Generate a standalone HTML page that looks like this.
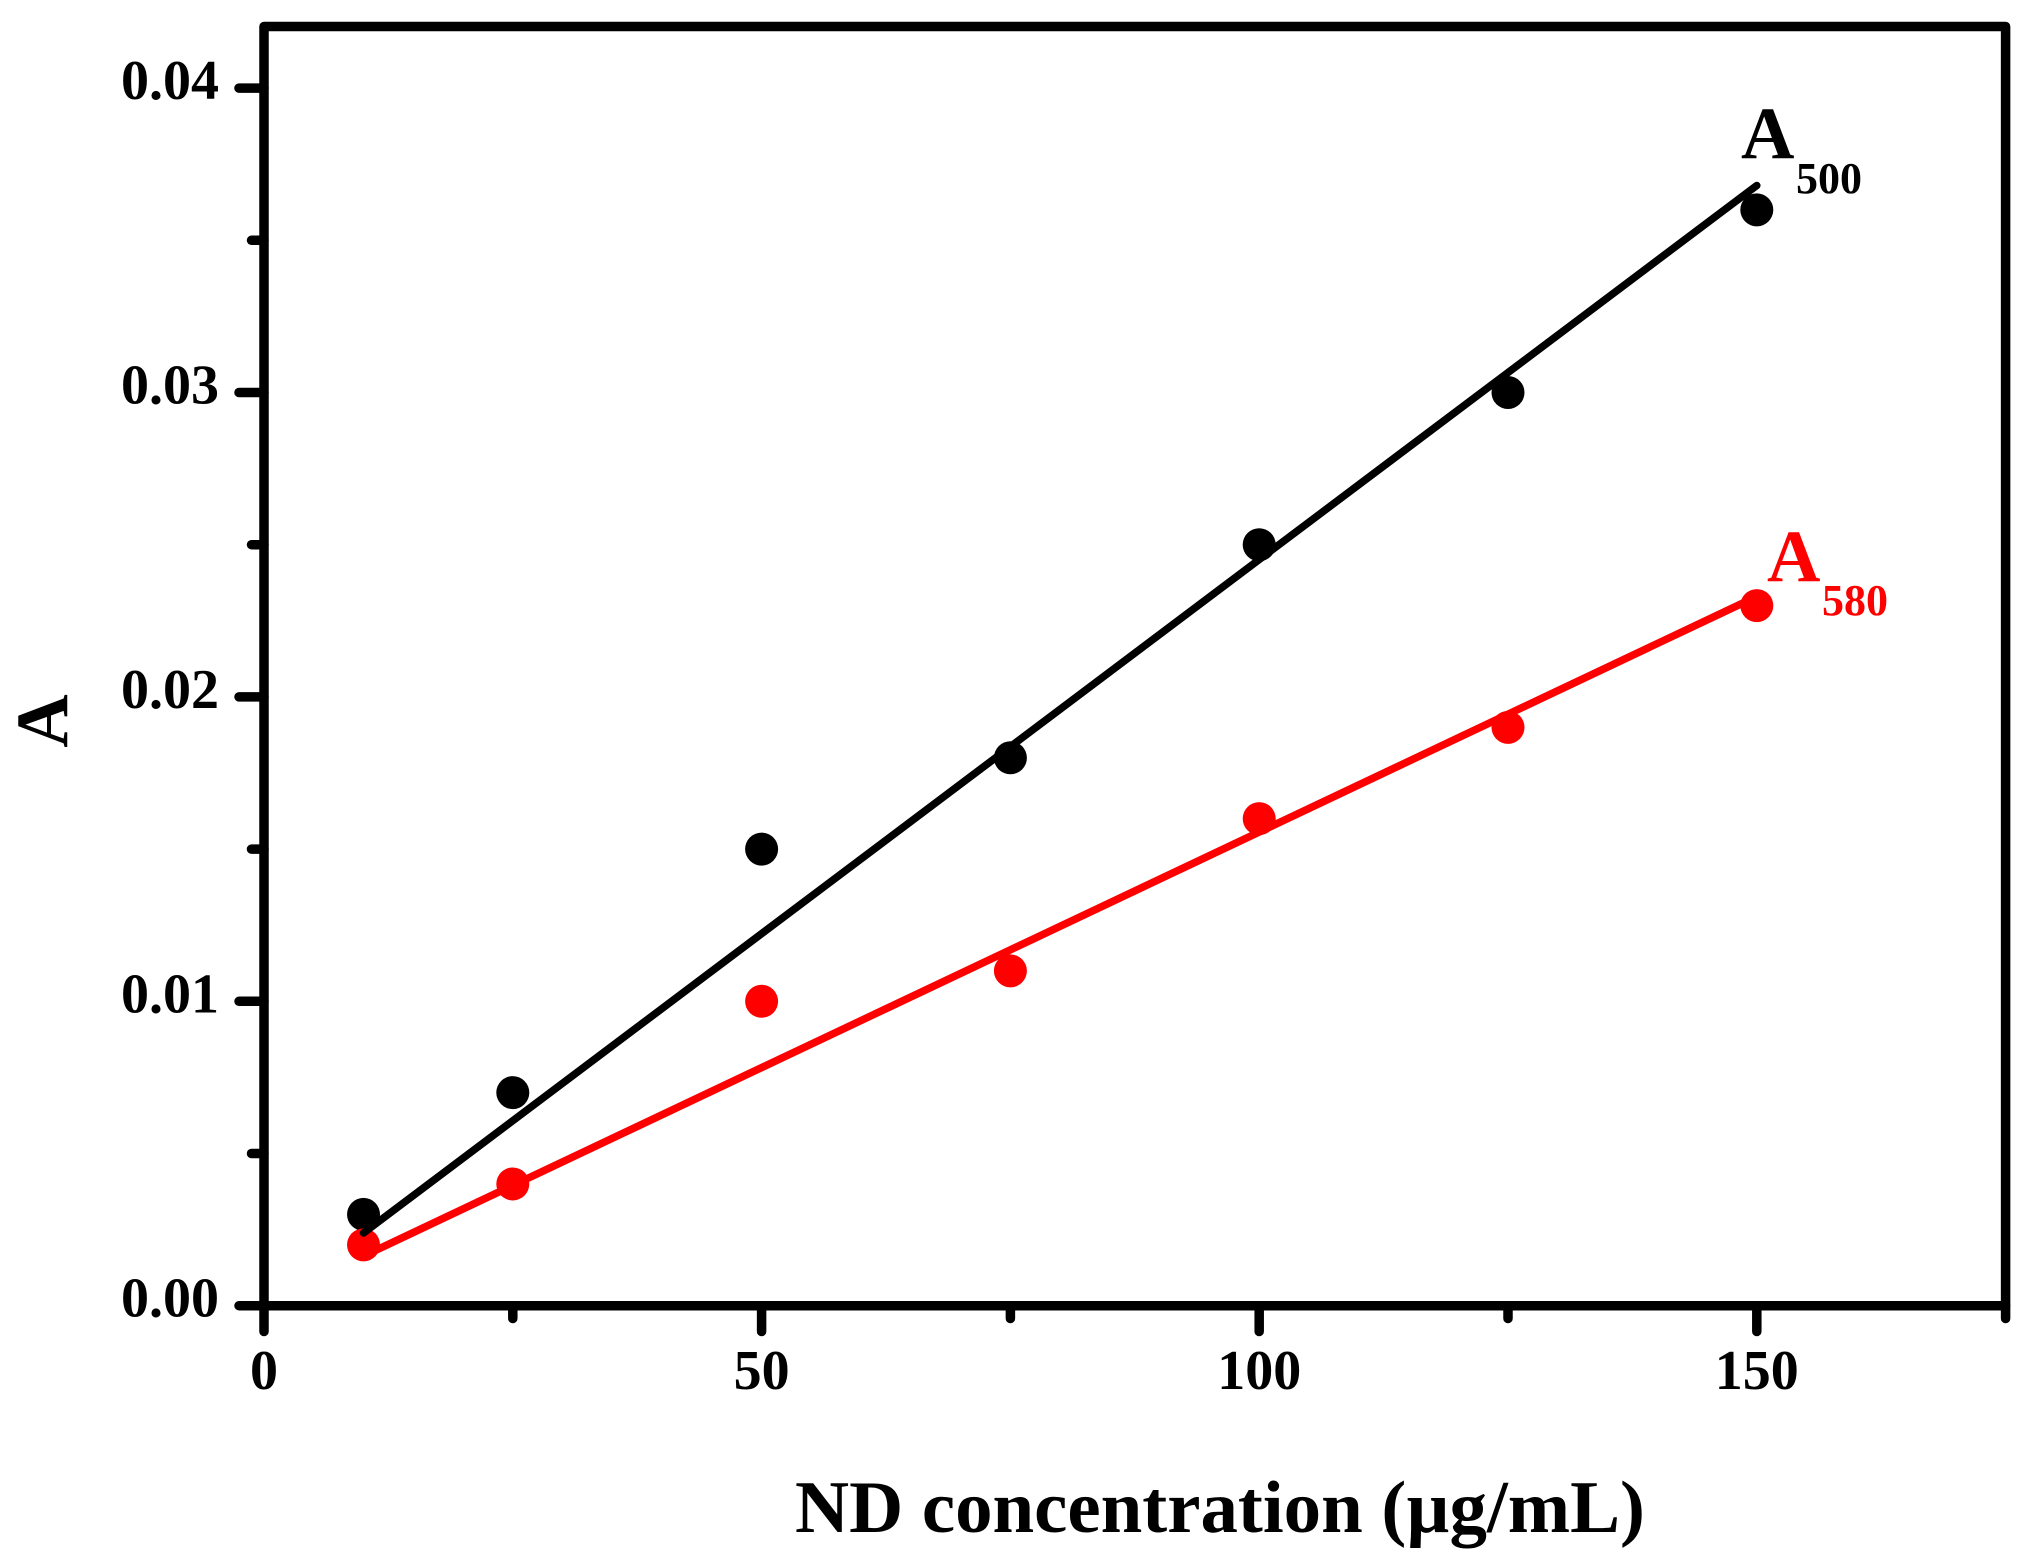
<!DOCTYPE html>
<html lang="en">
<head>
<meta charset="utf-8">
<title>Absorbance vs ND concentration</title>
<style>
html,body{margin:0;padding:0;background:#fff;}
svg{display:block;}
text{font-family:"Liberation Serif",serif;font-weight:bold;}
</style>
</head>
<body>
<svg id="chart" xmlns="http://www.w3.org/2000/svg" width="2033" height="1559" viewBox="0 0 2033 1559">
  <rect x="0" y="0" width="2033" height="1559" fill="#ffffff"/>
  <g id="ticks"></g>
  <g id="tick-labels"></g>
  <g id="marks"></g>
  <rect x="264" y="26.5" width="1741.6" height="1279.2" fill="none" stroke="#000" stroke-width="9.5" stroke-linejoin="round"/>
  <text x="795" y="1532" font-size="74" textLength="850" lengthAdjust="spacingAndGlyphs" fill="#000">ND concentration (µg/mL)</text>
  <text transform="translate(67,721) rotate(-90)" text-anchor="middle" font-size="74" fill="#000">A</text>
  <text x="1741" y="158" font-size="74" fill="#000">A</text>
  <text x="1796" y="193" font-size="44" fill="#000">500</text>
  <text x="1767" y="581" font-size="74" fill="#ff0000">A</text>
  <text x="1822" y="615" font-size="44" fill="#ff0000">580</text>
</svg>
<script>
const concentrations = [10, 25, 50, 75, 100, 125, 150];
const a500Values = [0.003, 0.007, 0.015, 0.018, 0.025, 0.030, 0.036];
const a580Values = [0.002, 0.004, 0.010, 0.011, 0.016, 0.019, 0.023];
const fitX = [10, 150];
const a500Fit = [0.00239, 0.0368];
const a580Fit = [0.00163, 0.0233];
const xMajorTicks = [0, 50, 100, 150];
const xMinorTicks = [25, 75, 125, 175];
const yMajorTicks = [0, 0.01, 0.02, 0.03, 0.04];
const yMinorTicks = [0.005, 0.015, 0.025, 0.035];

const NS = 'http://www.w3.org/2000/svg';
const sx = v => 264 + v * 9.952;
const sy = v => 1305.7 - v * 30440;

function mk(parent, tag, attrs, txt) {
  const el = document.createElementNS(NS, tag);
  for (const k in attrs) el.setAttribute(k, attrs[k]);
  if (txt !== undefined) el.textContent = txt;
  parent.appendChild(el);
  return el;
}

const ticks = document.getElementById('ticks');
const labels = document.getElementById('tick-labels');
const marks = document.getElementById('marks');
const tickStyle = {stroke: '#000', 'stroke-width': 9.5, 'stroke-linecap': 'round'};

xMajorTicks.forEach(v => {
  const t = mk(ticks, 'line', Object.assign({x1: sx(v), x2: sx(v), y1: sy(0), y2: 1331.5}, tickStyle));
  
  
  const l = mk(labels, 'text', {x: sx(v), y: 1389, 'text-anchor': 'middle', 'font-size': 56, fill: '#000'}, String(v));
  
  
});
xMinorTicks.forEach(v => {
  const t = mk(ticks, 'line', Object.assign({x1: sx(v), x2: sx(v), y1: sy(0), y2: 1318.5}, tickStyle));
  
  
});
yMajorTicks.forEach(v => {
  const t = mk(ticks, 'line', Object.assign({x1: 239, x2: sx(0), y1: sy(v), y2: sy(v)}, tickStyle));
  
  
  const l = mk(labels, 'text', {x: 219, y: sy(v) + 11, 'text-anchor': 'end', 'font-size': 56, fill: '#000'}, v.toFixed(2));
  
  
});
yMinorTicks.forEach(v => {
  const t = mk(ticks, 'line', Object.assign({x1: 251.5, x2: sx(0), y1: sy(v), y2: sy(v)}, tickStyle));
  
  
});

concentrations.forEach((c, i) => {
  const p = mk(marks, 'circle', {cx: sx(c), cy: sy(a500Values[i]), r: 16.5, fill: '#000'});
  
  
});
concentrations.forEach((c, i) => {
  const p = mk(marks, 'circle', {cx: sx(c), cy: sy(a580Values[i]), r: 16.5, fill: '#ff0000'});
  
  
});

const blackLine = mk(marks, 'line', {x1: sx(fitX[0]), y1: sy(a500Fit[0]), x2: sx(fitX[1]), y2: sy(a500Fit[1]), stroke: '#000', 'stroke-width': 7.5, 'stroke-linecap': 'round'});


const redLine = mk(marks, 'line', {x1: sx(fitX[0]), y1: sy(a580Fit[0]), x2: sx(fitX[1]), y2: sy(a580Fit[1]), stroke: '#ff0000', 'stroke-width': 7.5, 'stroke-linecap': 'round'});


</script>
</body>
</html>
